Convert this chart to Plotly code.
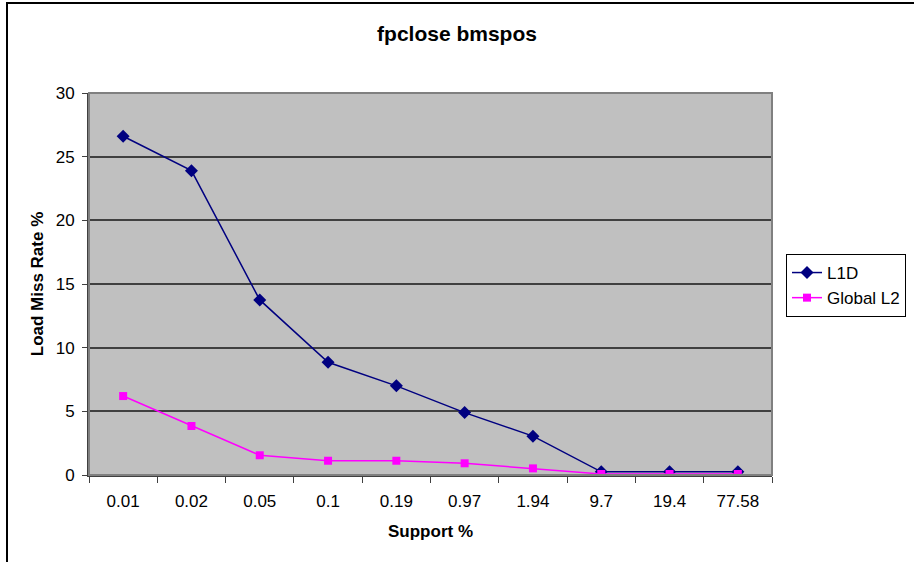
import plotly.graph_objects as go

support = ["0.01", "0.02", "0.05", "0.1", "0.19", "0.97", "1.94", "9.7", "19.4", "77.58"]
l1d = [26.6, 23.9, 13.75, 8.85, 7.0, 4.9, 3.05, 0.25, 0.25, 0.25]
global_l2 = [6.2, 3.85, 1.55, 1.12, 1.12, 0.92, 0.52, 0.08, 0.08, 0.08]

FONT = "Liberation Sans, Arial, sans-serif"

fig = go.Figure()
fig.add_trace(go.Scatter(
    x=support, y=l1d, name="L1D", mode="lines+markers",
    line=dict(color="#000080", width=1.5),
    marker=dict(symbol="diamond", size=10, color="#000080"),
))
fig.add_trace(go.Scatter(
    x=support, y=global_l2, name="Global L2", mode="lines+markers",
    line=dict(color="#FF00FF", width=1.5),
    marker=dict(symbol="square", size=8, color="#FF00FF"),
))

L, R, T, B = 89, 772, 93, 475
W, H = 914, 562
pw, ph = R - L, B - T

# chart frame (extends past right/bottom edges)
fig.add_shape(type="rect", xref="paper", yref="paper",
              x0=(7 - L) / pw, x1=(930 - L) / pw,
              y0=(B - 580) / ph, y1=1 + (T - 3) / ph,
              line=dict(color="#000000", width=2), fillcolor="rgba(0,0,0,0)",
              layer="below")
# plot area border
fig.add_shape(type="rect", xref="paper", yref="paper", x0=0, x1=1, y0=0, y1=1,
              line=dict(color="#808080", width=2), fillcolor="rgba(0,0,0,0)")

fig.update_layout(
    width=W, height=H,
    margin=dict(l=L, r=W - R, t=T, b=H - B, autoexpand=False),
    paper_bgcolor="white", plot_bgcolor="#C0C0C0",
    font=dict(family=FONT, size=17, color="black"),
    title=dict(text="<b>fpclose bmspos</b>", x=0.5, xref="container", xanchor="center",
               y=1 - 34 / H, yref="container", yanchor="middle",
               font=dict(size=21, family=FONT)),
    showlegend=True,
    legend=dict(x=786 / W, xref="container", xanchor="left",
                y=1 - 254 / H, yref="container", yanchor="top",
                bgcolor="white", bordercolor="black", borderwidth=1,
                font=dict(size=17, family=FONT), tracegroupgap=0,
                itemwidth=30),
    xaxis=dict(type="category", tickson="boundaries", ticks="outside", ticklen=6,
               tickcolor="#404040", showline=True, linecolor="#404040", linewidth=2,
               showgrid=False, range=[-0.5, 9.5], ticklabelstandoff=10,
               title=dict(text="<b>Support %</b>", standoff=15,
                          font=dict(size=17, family=FONT)),
               tickfont=dict(size=17, family=FONT)),
    yaxis=dict(range=[0, 30], dtick=5, ticks="outside", ticklen=5,
               tickcolor="#404040", showline=True, linecolor="#404040", linewidth=2,
               showgrid=True, gridcolor="#404040", gridwidth=1.5, zeroline=False,
               ticklabelstandoff=4,
               title=dict(text="<b>Load Miss Rate %</b>", standoff=8,
                          font=dict(size=17, family=FONT)),
               tickfont=dict(size=17, family=FONT)),
)

fig.write_html("out.html")
